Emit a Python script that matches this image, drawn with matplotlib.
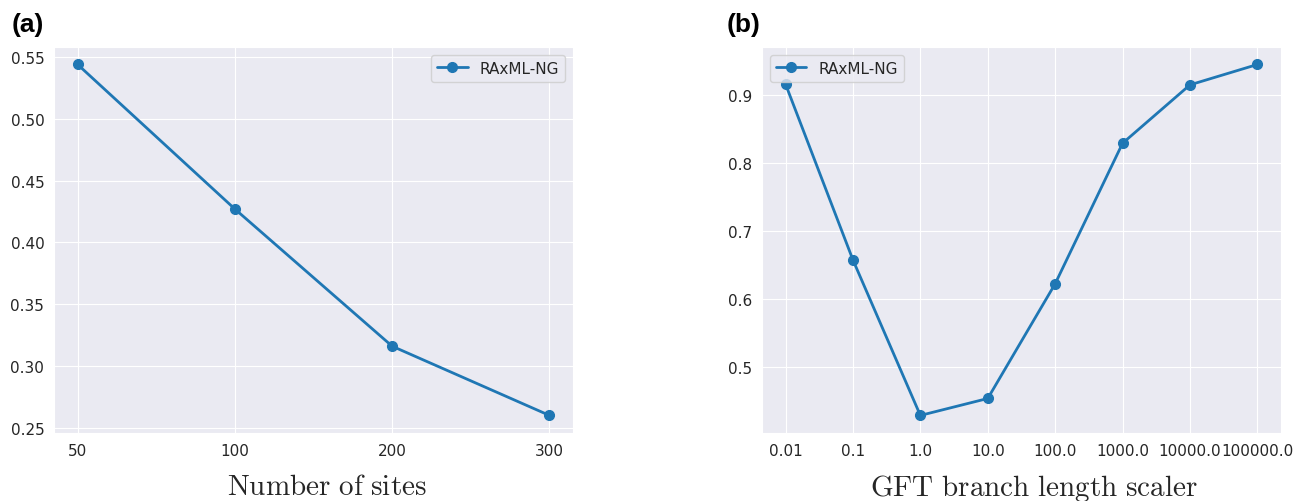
import matplotlib
matplotlib.use('Agg')
import matplotlib.pyplot as plt
import seaborn as sns

sns.set_style('darkgrid')
plt.rcParams['mathtext.fontset'] = 'cm'

# panel (a): accuracy vs number of sites
sites = ['50', '100', '200', '300']
sites_vals = [0.544, 0.427, 0.316, 0.260]

# panel (b): accuracy vs GFT branch length scaler
scalers = ['0.01', '0.1', '1.0', '10.0', '100.0', '1000.0', '10000.0', '100000.0']
scaler_vals = [0.916, 0.657, 0.428, 0.453, 0.622, 0.829, 0.915, 0.945]

label = 'RAxML-NG'
col = '#1f77b4'

fig = plt.figure(figsize=(12.93, 5.02), dpi=100)
ax1 = fig.add_axes([0.0418, 0.1355, 0.4014, 0.769])
ax2 = fig.add_axes([0.5893, 0.1355, 0.4014, 0.769])

ax1.plot(sites, sites_vals, marker='o', color=col, lw=2, ms=7, label=label)
ax1.set_yticks([0.25, 0.30, 0.35, 0.40, 0.45, 0.50, 0.55])
ax1.set_xlabel(r'$\mathrm{Number\ of\ sites}$', fontsize=21)
ax1.legend(loc='upper right', fontsize=11)

ax2.plot(scalers, scaler_vals, marker='o', color=col, lw=2, ms=7, label=label)
ax2.set_yticks([0.5, 0.6, 0.7, 0.8, 0.9])
ax2.set_xlabel(r'$\mathrm{GFT\ branch\ length\ scaler}$', fontsize=21)
ax2.legend(loc='upper left', fontsize=11)

for ax in (ax1, ax2):
    ax.tick_params(labelsize=11)
    ax.xaxis.set_label_coords(0.525, -0.1)

fig.text(0.009, 0.95, '(a)', fontsize=19, fontweight='bold', va='center',
         family='Liberation Sans', color='black')
fig.text(0.562, 0.95, '(b)', fontsize=19, fontweight='bold', va='center',
         family='Liberation Sans', color='black')

fig.savefig('out.png', dpi=100)
